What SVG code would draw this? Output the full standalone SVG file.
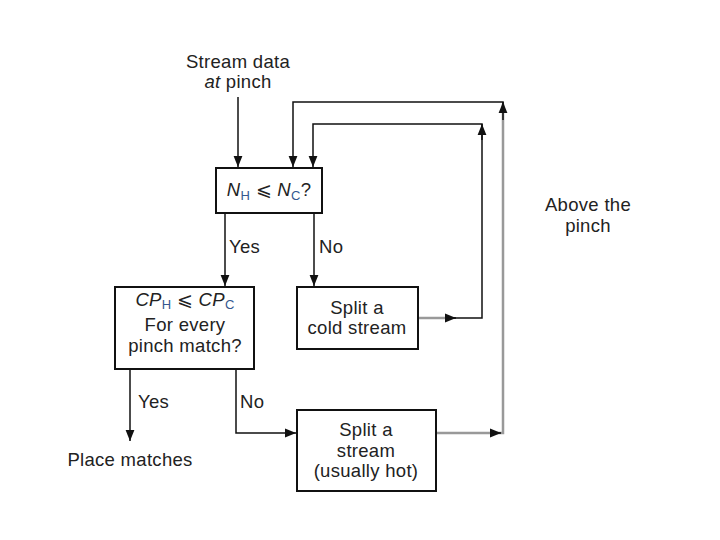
<svg xmlns="http://www.w3.org/2000/svg" width="720" height="540" viewBox="0 0 720 540">
<style>
text{font-family:"Liberation Sans",Arial,sans-serif;font-size:18.5px;letter-spacing:0.3px;fill:#222;text-anchor:middle}
.l{text-anchor:start}
.box{fill:#fff;stroke:#111;stroke-width:2}
.ln{fill:none;stroke:#111;stroke-width:1.5}
.gr{fill:none;stroke:#999;stroke-width:2.5}
.it{font-style:italic}
.sub{font-size:13px;fill:#35578f}
</style>
<defs>
<marker id="ah" viewBox="0 0 10 10" refX="10" refY="5" markerWidth="11" markerHeight="11" markerUnits="userSpaceOnUse" orient="auto">
<path d="M0,1 L10,5 L0,9 Z" fill="#111"/>
</marker>
</defs>
<rect width="720" height="540" fill="#fff"/>
<g id="connectors">
<path class="ln" d="M238,97 V167" marker-end="url(#ah)"/>
<path class="ln" d="M503,110 V102 H293 V167" marker-end="url(#ah)"/>
<path class="ln" d="M482,131 V124 H313 V167" marker-end="url(#ah)"/>
<path class="ln" d="M225,213 V286" marker-end="url(#ah)"/>
<path class="ln" d="M314,213 V286" marker-end="url(#ah)"/>
<path class="gr" d="M418,318 H450"/>
<path class="ln" d="M445,318 H482 V126" />
<path class="ln" d="M445,318 H456" marker-end="url(#ah)"/>
<path class="ln" d="M482,140 V124" marker-end="url(#ah)"/>
<path class="gr" d="M436,433 H503 V104"/>
<path class="ln" d="M490,433 H501" marker-end="url(#ah)"/>
<path class="ln" d="M503,120 V102" marker-end="url(#ah)"/>
<path class="ln" d="M130,369 V441" marker-end="url(#ah)"/>
<path class="ln" d="M236,369 V433 H296" marker-end="url(#ah)"/>
</g>
<g id="start">
<text x="238" y="68">Stream data</text>
<text x="238" y="88"><tspan class="it">at</tspan> pinch</text>
</g>
<g id="n1">
<rect class="box" x="216" y="168" width="106" height="45"/>
<text x="269" y="196"><tspan class="it">N</tspan><tspan class="sub" dy="4">H</tspan><tspan dy="-4"> ⩽ </tspan><tspan class="it">N</tspan><tspan class="sub" dy="4">C</tspan><tspan dy="-4">?</tspan></text>
</g>
<g id="lbl-yes1"><text class="l" x="229" y="253">Yes</text></g>
<g id="lbl-no1"><text class="l" x="319" y="253">No</text></g>
<g id="n2">
<rect class="box" x="115" y="287" width="139" height="82"/>
<text x="185" y="306"><tspan class="it">CP</tspan><tspan class="sub" dy="3">H</tspan><tspan dy="-3"> ⩽ </tspan><tspan class="it">CP</tspan><tspan class="sub" dy="3">C</tspan></text>
<text x="185" y="331">For every</text>
<text x="185" y="352">pinch match?</text>
</g>
<g id="n3">
<rect class="box" x="297" y="287" width="121" height="62"/>
<text x="357" y="314">Split a</text>
<text x="357" y="334">cold stream</text>
</g>
<g id="lbl-yes2"><text class="l" x="138" y="408">Yes</text></g>
<g id="lbl-no2"><text class="l" x="240" y="408">No</text></g>
<g id="n4">
<rect class="box" x="297" y="410" width="139" height="81"/>
<text x="366" y="436">Split a</text>
<text x="366" y="457">stream</text>
<text x="366" y="477">(usually hot)</text>
</g>
<g id="place"><text x="130" y="466">Place matches</text></g>
<g id="above">
<text x="588" y="211">Above the</text>
<text x="588" y="232">pinch</text>
</g>
</svg>
